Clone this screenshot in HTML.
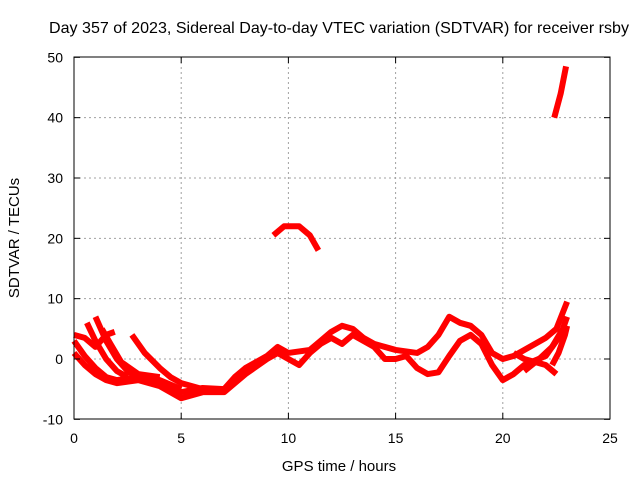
<!DOCTYPE html>
<html><head><meta charset="utf-8"><style>
body{margin:0;background:#fff}
svg{display:block;font-family:"Liberation Sans",sans-serif}
</style></head><body>
<svg id="chart" width="640" height="480" viewBox="0 0 640 480">
<rect width="640" height="480" fill="#fff"/>
<text x="339" y="33" font-size="16" text-anchor="middle" textLength="580" lengthAdjust="spacingAndGlyphs">Day 357 of 2023, Sidereal Day-to-day VTEC variation (SDTVAR) for receiver rsby</text>
<g id="grid"></g>
<g id="series"></g>
<rect x="74" y="57" width="536" height="362" fill="none" stroke="#000" stroke-width="1"/>
<g id="ticks"></g>
<text x="339" y="471" font-size="15" text-anchor="middle">GPS time / hours</text>
<text x="19" y="238" font-size="15" text-anchor="middle" transform="rotate(-90 19 238)">SDTVAR / TECUs</text>
</svg>
<script>
const xTicks=[0,5,10,15,20,25];
const yTicks=[-10,0,10,20,30,40,50];
const seriesA=[[0,3],[0.5,0.5],[1,-1.5],[1.5,-3],[2,-3.5],[3,-3],[4,-4],[5,-5.5],[6,-4.8],[7,-5],[7.5,-3],[8,-1.5],[9,0.5],[9.5,2],[10,1],[11,1.5],[11.5,3],[12,4.5],[12.5,5.5],[13,5],[13.5,3.5],[14,2.5],[14.5,2],[15,1.5],[16,1],[16.5,2],[17,4],[17.5,7],[18,6],[18.5,5.5],[19,4],[19.5,1],[20,0],[20.5,0.5],[21,1.5],[22,3.5],[22.5,5],[23,9.5]];
const seriesB=[[0,1],[0.5,-1],[1,-2.5],[1.5,-3.5],[2,-4],[3,-3.5],[4,-4.5],[5,-6.5],[6,-5.5],[7,-5.5],[8,-2.5],[9,0],[9.5,1],[10,0],[10.5,-1],[11,1],[11.5,2.5],[12,3.5],[12.5,2.5],[13,4],[14,2],[14.5,0],[15,0],[15.5,0.5],[16,-1.5],[16.5,-2.5],[17,-2.2],[17.5,0.5],[18,3],[18.5,4],[19,2.5],[19.5,-1],[20,-3.5],[20.5,-2.5],[21,-1],[22,0.5],[22.5,3],[23,5.5]];
const seriesC=[[1,7],[1.5,3],[2,0],[2.5,-2],[3,-3],[4,-3.5],[5,-5]];
const seriesD=[[0.6,6],[1,3],[1.5,0],[2,-2],[2.5,-3]];
const seriesE=[[1.3,5],[1.7,2.5],[2.2,-0.5],[3,-2.5],[4,-3]];
const seriesF=[[2.7,4],[3.3,1],[4,-1.5],[4.5,-3],[5,-4],[6,-5]];
const seriesG=[[0,4],[0.5,3.5],[1,2],[1.5,4],[1.9,4.5]];
const seriesH=[[20.5,1],[21,0],[21.5,-0.5],[22,-1],[22.5,-2.5]];
const seriesI=[[21,-2],[21.7,0],[22.3,2],[22.8,5],[23,7]];
const seriesJ=[[22.3,-1],[22.6,1],[22.9,4],[23,5.5]];
const seriesUp=[[9.3,20.5],[9.8,22],[10.5,22],[11,20.5],[11.4,18]];
const seriesTop=[[22.4,40],[22.7,44],[22.95,48.5]];
const allSeries=[seriesA,seriesB,seriesC,seriesD,seriesE,seriesF,seriesG,seriesH,seriesI,seriesJ,seriesUp,seriesTop];
const X=v=>74+v*536/25, Y=v=>359-v*362/60;
const NS="http://www.w3.org/2000/svg";
const grid=document.getElementById('grid'),ticks=document.getElementById('ticks'),ser=document.getElementById('series');
function mk(t,a,p){const e=document.createElementNS(NS,t);for(const k in a)e.setAttribute(k,a[k]);p.appendChild(e);return e;}
xTicks.forEach(t=>{const x=X(t);
 if(t>0&&t<25){const g=mk('line',{x1:x,x2:x,y1:57,y2:419,stroke:'#a0a0a0','stroke-dasharray':'2,3'},grid);
 
 }
 mk('line',{x1:x,x2:x,y1:419,y2:413,stroke:'#000'},ticks);mk('line',{x1:x,x2:x,y1:57,y2:63,stroke:'#000'},ticks);
 const l=mk('text',{x:x,y:443,'font-size':14,'text-anchor':'middle'},ticks);l.textContent=t;
 
 });
yTicks.forEach(t=>{const y=Y(t);
 if(t>-10&&t<50){const g=mk('line',{x1:74,x2:610,y1:y,y2:y,stroke:'#a0a0a0','stroke-dasharray':'2,3'},grid);
 
 }
 mk('line',{x1:74,x2:80,y1:y,y2:y,stroke:'#000'},ticks);mk('line',{x1:610,x2:604,y1:y,y2:y,stroke:'#000'},ticks);
 const l=mk('text',{x:63,y:y+5,'font-size':14,'text-anchor':'end'},ticks);l.textContent=t;
 
 });
allSeries.forEach((s,i)=>{const p=mk('polyline',{points:s.map(d=>X(d[0])+','+Y(d[1])).join(' '),fill:'none',stroke:'#ff0000','stroke-width':6,'stroke-linejoin':'round'},ser);
 
 });
</script>
</body></html>
